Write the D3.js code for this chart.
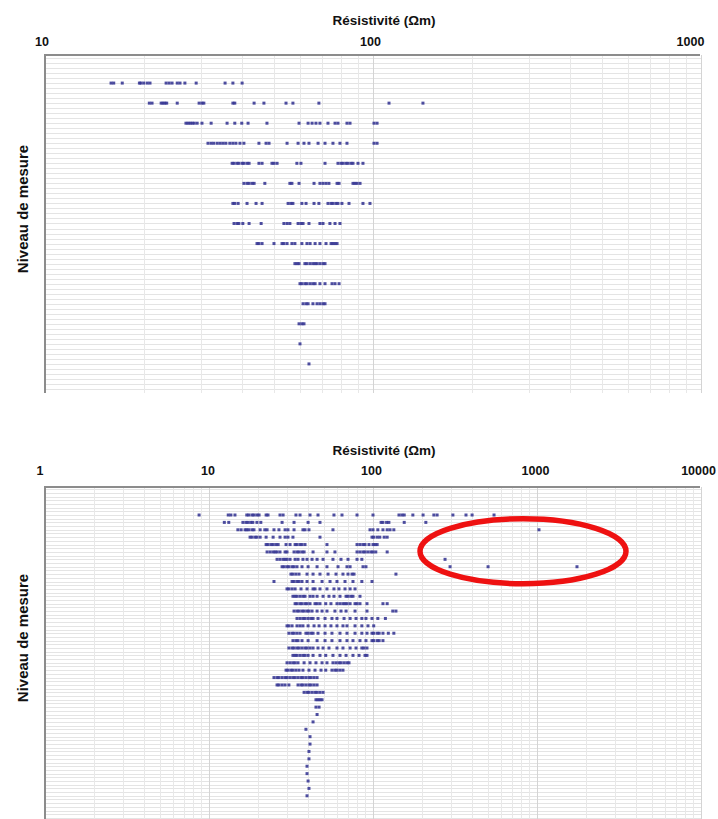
<!DOCTYPE html>
<html>
<head>
<meta charset="utf-8">
<script src="https://cdn.jsdelivr.net/npm/d3@7/dist/d3.min.js"></script>
<style>
  html, body { margin: 0; padding: 0; background: #ffffff; }
  svg { display: block; }
  text { font-family: "Liberation Sans", Arial, sans-serif; font-weight: bold; fill: #111; }
</style>
</head>
<body>
<svg id="chart" width="718" height="819"></svg>
<script>
// ---------- DATA ----------
const axisTitle = "Résistivité (Ωm)";
const levelTitle = "Niveau de mesure";
const topTicks = [10, 100, 1000];
const bottomTicks = [1, 10, 100, 1000, 10000];

// Upper chart: resistivity (Ωm) per measurement level (level 1 = top row)
const topRows = [
  [15.9, 16.2, 17.2, 19.4, 19.6, 20.0, 20.5, 20.9, 23.4, 23.9, 24.4, 25.3, 25.8, 26.7, 28.9, 35.4, 37.4, 39.9],
  [20.8, 21.2, 22.6, 22.9, 23.2, 23.5, 25.3, 29.5, 30.1, 30.5, 37.4, 37.9, 43.4, 46.5, 54.3, 57.0, 68.4, 111.9, 142],
  [26.9, 27.3, 27.7, 28.1, 28.5, 29.1, 30.1, 32.1, 35.9, 37.9, 39.8, 41.6, 47.5, 59.5, 63.4, 65.2, 67.0, 68.9, 72.9, 76.6, 78.2, 83.3, 85.1, 100.7, 102.9],
  [31.4, 32.1, 32.7, 33.5, 34.2, 34.9, 35.6, 36.6, 37.4, 38.2, 39.3, 40.4, 44.9, 47.2, 48.2, 54.7, 59.1, 61.6, 63.8, 68.0, 71.4, 75.5, 79.3, 83.3, 100.7, 102.9],
  [37.2, 37.7, 38.5, 39.0, 39.9, 40.4, 41.3, 41.9, 44.9, 45.9, 49.2, 49.9, 51.0, 58.6, 60.3, 71.4, 78.2, 79.9, 81.0, 82.7, 83.9, 85.7, 86.9, 90.0, 93.2],
  [40.4, 41.3, 41.9, 42.8, 43.4, 46.8, 55.8, 56.6, 59.5, 66.1, 68.9, 70.4, 71.9, 73.4, 77.7, 78.8, 86.9, 88.1, 89.4, 91.3],
  [37.4, 37.9, 38.8, 41.3, 44.0, 45.9, 55.1, 56.2, 57.0, 60.7, 62.5, 66.1, 68.4, 72.9, 74.5, 75.5, 77.1, 78.2, 80.4, 84.5, 93.2, 97.9],
  [37.7, 38.5, 39.0, 40.1, 41.9, 45.6, 53.5, 54.7, 55.8, 59.1, 60.3, 61.2, 63.8, 68.9, 70.4, 73.9, 76.6, 79.3],
  [44.3, 44.9, 45.9, 49.9, 52.8, 53.5, 54.7, 56.6, 57.8, 60.7, 62.9, 64.3, 66.6, 68.9, 71.9, 74.5, 75.5, 76.6, 77.7],
  [57.8, 58.7, 59.5, 62.0, 62.9, 64.3, 65.6, 66.6, 67.5, 68.9, 70.4, 71.4],
  [59.9, 60.7, 62.0, 62.9, 64.3, 65.6, 66.6, 68.9, 71.4, 75.0, 76.6, 78.8],
  [61.2, 62.5, 63.4, 65.6, 67.5, 68.9, 70.4, 71.4],
  [59.5, 60.7, 61.6],
  [59.9],
  [63.8]
];

// Lower chart: resistivity (Ωm) per measurement level (level 1 = top row)
const bottomRows = [
  [8.7, 13.1, 13.6, 14.4, 17.0, 17.5, 18.3, 18.8, 19.6, 20.2, 22.3, 22.9, 27.1, 28.3, 33.9, 35.9, 41.3, 46.2, 57.8, 64.7, 79.9, 100, 144, 150, 155, 175, 202, 235, 246, 307, 369, 402, 547],
  [12.4, 13.2, 16.1, 16.8, 17.3, 18.0, 18.5, 19.6, 20.7, 27.9, 33.0, 40.2, 47.5, 112, 115, 121, 125, 155, 210],
  [15.0, 15.7, 16.6, 17.0, 17.5, 18.3, 18.8, 20.5, 21.9, 22.6, 24.9, 26.7, 29.1, 30.3, 33.0, 37.4, 38.5, 40.7, 57.0, 95.9, 100, 107, 115, 122, 127, 134, 1028],
  [17.8, 18.3, 19.1, 19.6, 20.5, 22.3, 24.6, 27.1, 29.1, 30.3, 32.5, 47.5, 98.6, 101, 106, 110, 117, 122],
  [22.3, 22.9, 23.9, 24.6, 25.6, 26.4, 29.5, 31.2, 33.5, 34.4, 35.9, 36.9, 38.5, 52.4, 79.9, 83.3, 86.9, 89.4, 94.5, 100, 103, 106],
  [22.6, 23.6, 24.6, 25.3, 26.0, 27.1, 29.1, 29.9, 33.0, 34.4, 35.4, 36.9, 38.0, 43.1, 52.4, 58.6, 79.9, 83.3, 86.9, 89.4, 93.2, 97.2, 100, 104, 122],
  [26.0, 27.1, 28.3, 29.1, 29.9, 31.2, 33.5, 34.9, 37.4, 39.6, 42.5, 45.6, 49.6, 57.0, 63.8, 70.4, 79.9, 85.5, 275],
  [27.9, 28.7, 29.9, 30.7, 32.1, 33.0, 34.4, 36.9, 40.2, 45.6, 52.4, 61.2, 69.4, 72.5, 86.9, 90.6, 295, 503, 1753],
  [31.6, 32.5, 33.9, 35.4, 39.6, 43.1, 47.5, 53.2, 59.5, 65.6, 70.4, 74.5, 76.6, 138],
  [24.9, 32.1, 33.0, 34.4, 35.4, 36.9, 39.6, 43.1, 48.9, 54.7, 60.3, 67.5, 75.5, 85.5, 98.6],
  [29.9, 30.7, 32.1, 33.5, 36.4, 39.6, 43.1, 44.3, 47.5, 52.4, 57.8, 62.0, 67.5, 72.5, 77.7],
  [32.5, 33.5, 34.4, 35.9, 37.4, 38.5, 41.3, 43.1, 45.6, 49.6, 53.9, 57.8, 62.9, 68.5, 70.4, 73.4, 75.5, 83.3],
  [33.5, 34.4, 35.9, 36.9, 38.5, 39.6, 41.3, 44.3, 45.6, 47.5, 51.5, 55.4, 60.3, 62.9, 65.6, 67.5, 69.4, 72.5, 77.7, 79.9, 83.3, 91.9, 115, 122],
  [33.0, 34.4, 35.4, 36.9, 38.0, 39.6, 40.7, 42.5, 45.6, 48.9, 52.4, 58.6, 63.8, 68.5, 77.7, 91.9, 132, 138],
  [34.4, 35.9, 37.4, 38.5, 40.2, 41.9, 43.1, 46.2, 51.0, 56.2, 60.3, 66.6, 72.5, 78.8, 85.5, 90.6, 98.6, 107, 119],
  [29.9, 30.7, 32.1, 34.4, 35.9, 37.4, 40.2, 43.7, 46.9, 51.0, 55.4, 60.3, 65.6, 69.4, 77.7, 85.5, 93.2, 101],
  [30.7, 32.1, 33.0, 34.4, 35.9, 39.0, 40.2, 41.9, 43.1, 46.2, 51.0, 56.2, 62.9, 69.4, 77.7, 85.5, 91.9, 98.6, 101, 106, 109, 115, 124, 134],
  [32.5, 33.9, 34.9, 36.9, 40.2, 45.6, 51.0, 56.2, 62.9, 69.4, 75.5, 83.3, 90.6, 98.6, 101, 106, 109, 115],
  [30.7, 32.1, 33.0, 34.4, 35.4, 36.9, 38.5, 39.6, 41.3, 43.1, 46.2, 49.6, 53.9, 60.3, 65.6, 72.5, 78.8, 85.5, 88.1, 91.9],
  [32.5, 33.5, 34.4, 35.9, 37.4, 38.5, 40.2, 43.1, 47.5, 51.5, 57.0, 62.9, 68.5, 75.5, 82.2, 89.4, 91.9],
  [29.9, 31.2, 32.5, 33.5, 34.9, 38.0, 41.3, 44.9, 48.9, 52.4, 57.0, 59.5, 62.0, 63.8, 66.6, 69.4, 71.4],
  [29.5, 30.3, 31.6, 32.5, 33.9, 35.4, 37.4, 40.7, 44.3, 48.2, 51.5, 56.2, 58.6, 60.3, 62.9, 65.6],
  [24.9, 26.0, 26.7, 27.9, 29.1, 29.9, 31.2, 32.5, 33.5, 34.9, 36.4, 37.4, 39.0, 40.7, 41.9, 43.7, 45.6],
  [26.0, 26.7, 27.9, 29.1, 30.7, 34.9, 36.4, 37.4, 39.0, 40.7, 41.9, 43.7, 45.6],
  [38.0, 39.6, 40.7, 42.5, 44.3, 45.6, 47.5, 49.6],
  [44.9, 46.2, 47.5, 48.9],
  [44.9, 46.9],
  [45.6],
  [43.1],
  [39.0],
  [41.3],
  [41.3],
  [40.7],
  [40.7],
  [39.6],
  [39.6],
  [40.2],
  [40.7],
  [39.6]
];

// ---------- DRAWING ----------
const svg = d3.select("#chart");

function drawPanel(cfg) {
  const g = svg.append("g");
  const x = d3.scaleLog().domain(cfg.xDomain).range([45, 701]);
  const y = d3.scaleLinear().domain(cfg.yDomain).range([cfg.top, cfg.bottom]);

  // horizontal gridlines
  const hLines = d3.range(Math.ceil(cfg.yDomain[0] / cfg.hStep) * cfg.hStep, cfg.yDomain[1], cfg.hStep)
    .filter(v => y(v) > cfg.top + 2);
  g.append("g").selectAll("line").data(hLines).join("line")
    .attr("x1", 46).attr("x2", 701)
    .attr("y1", d => Math.round(y(d)) + 0.5).attr("y2", d => Math.round(y(d)) + 0.5)
    .attr("stroke", "#e4e4e4").attr("stroke-width", 1);

  // vertical gridlines (major + minor, log)
  const vLines = x.ticks().filter(v => v > cfg.xDomain[0]);
  g.append("g").selectAll("line").data(vLines).join("line")
    .attr("x1", d => Math.round(x(d)) + 0.5).attr("x2", d => Math.round(x(d)) + 0.5)
    .attr("y1", cfg.top).attr("y2", cfg.bottom)
    .attr("stroke", d => cfg.ticks.includes(d) ? "#d4d4d4" : "#e8e8e8")
    .attr("stroke-width", 1);

  // points
  const pts = [];
  cfg.rows.forEach((row, i) => row.forEach(v => pts.push({ level: i + 1, value: v })));
  g.append("g").selectAll("rect").data(pts).join("rect")
    .attr("x", d => x(d.value) - 1.5)
    .attr("y", d => y(d.level) - 1.5)
    .attr("width", 3).attr("height", 3)
    .attr("fill", "#2f2f8f").attr("fill-opacity", 0.85);

  // frame: top and left axis lines
  g.append("line").attr("x1", 44).attr("x2", 700).attr("y1", cfg.top).attr("y2", cfg.top)
    .attr("stroke", "#8c8c8c").attr("stroke-width", 2);
  g.append("line").attr("x1", 45).attr("x2", 45).attr("y1", cfg.top).attr("y2", cfg.bottom)
    .attr("stroke", "#8c8c8c").attr("stroke-width", 2);

  // top axis with labels
  const axis = d3.axisTop(x).tickValues(cfg.ticks).tickSize(0).tickPadding(0)
    .tickFormat(d3.format("d"));
  const ag = g.append("g").attr("transform", `translate(0,${cfg.labelY})`).call(axis);
  ag.select(".domain").remove();
  ag.selectAll("text")
    .attr("font-family", '"Liberation Sans", Arial, sans-serif')
    .attr("font-weight", "bold").attr("font-size", 12.5).attr("fill", "#111")
    .attr("y", 0).attr("dy", 0)
    .attr("dx", (d, i) => cfg.dx[i]);

  // axis title
  g.append("text").attr("x", 384).attr("y", cfg.titleY)
    .attr("text-anchor", "middle").attr("font-size", 13.5).text(axisTitle);

  // level axis title
  g.append("text")
    .attr("transform", `translate(28,${cfg.levelY}) rotate(-90)`)
    .attr("text-anchor", "middle").attr("font-size", 15).text(levelTitle);

  return { x, y, g };
}

drawPanel({
  xDomain: [10, 1000], ticks: topTicks, rows: topRows,
  yDomain: [-0.4, 16.45], top: 55, bottom: 393, hStep: 0.25,
  labelY: 46, titleY: 25, levelY: 209, dx: [-3.5, -3, -11]
});

const bottom = drawPanel({
  xDomain: [1, 10000], ticks: bottomTicks, rows: bottomRows,
  yDomain: [-2.79, 42.14], top: 487, bottom: 819, hStep: 0.5,
  labelY: 475, titleY: 455, levelY: 638, dx: [-5.5, -1.5, -2, -2, -3]
});

// red highlight ellipse around the outlying measurements
svg.append("ellipse")
  .attr("cx", 523).attr("cy", (bottom.y(3) + bottom.y(8)) / 2 + 3)
  .attr("rx", 103).attr("ry", 32.5)
  .attr("fill", "none").attr("stroke", "#ee1111").attr("stroke-width", 5.5);
</script>
</body>
</html>
